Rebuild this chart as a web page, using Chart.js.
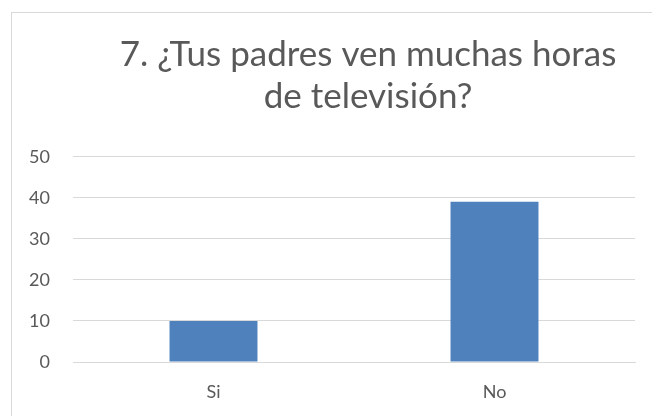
<!DOCTYPE html>
<html>
<head>
<meta charset="utf-8">
<script src="https://cdn.jsdelivr.net/npm/chart.js@4"></script>
<style>
  body { margin: 0; background: #fff; overflow: hidden; width: 652px; height: 416px; }
  #box { position: absolute; left: 11px; top: 12px; border: 1px solid #d9d9d9; width: 713px; height: 420px; }
</style>
</head>
<body>
<div id="box"><canvas id="myBarChart" width="713" height="420"></canvas></div>
<script>
// values
const categories = ['Si', 'No'];
const answers = [10, 39];
const titleLines = ['7. ¿Tus padres ven muchas horas', 'de televisión?'];
const yTicks = [0, 10, 20, 30, 40, 50];

const grey = '#595959';

// the title in the original sits over the whole chart box, not only the plot,
// so stretch the title block back to the full canvas width after layout
const wideTitle = {
    id: 'wideTitle',
    afterLayout(chart) {
        if (chart.titleBlock) {
            chart.titleBlock.left = 0;
            chart.titleBlock.right = 712;
        }
    }
};

const ctx = document.getElementById('myBarChart').getContext('2d');
const myChart = new Chart(ctx, {
    type: 'bar',
    data: {
        labels: categories,
        datasets: [{
            data: answers,
            backgroundColor: '#4f81bd',
            borderWidth: 0,
            categoryPercentage: 1,
            barPercentage: 0.313
        }]
    },
    options: {
        responsive: false,
        animation: false,
        layout: { padding: { left: 0, right: 90, top: 0, bottom: 11 } },
        plugins: {
            legend: { display: false },
            tooltip: { enabled: false },
            title: {
                display: true,
                text: titleLines,
                color: grey,
                font: { family: 'Lato', size: 35, weight: 'normal', lineHeight: 1.22 },
                padding: { top: 20, bottom: 38.3 }
            }
        },
        scales: {
            x: {
                grid: { display: false },
                border: { color: '#d9d9d9' },
                ticks: { color: grey, font: { family: 'Lato', size: 18 }, padding: 11 },
                afterFit: function(scale) { scale.height = 60; }
            },
            y: {
                min: yTicks[0],
                max: yTicks[yTicks.length - 1],
                border: { display: false },
                grid: { color: '#d9d9d9', drawTicks: false },
                ticks: { stepSize: 10, color: grey, font: { family: 'Lato', size: 18 }, padding: 23 },
                afterFit: function(scale) { scale.width = 61; }
            }
        }
    },
    plugins: [wideTitle]
});
</script>
</body>
</html>
